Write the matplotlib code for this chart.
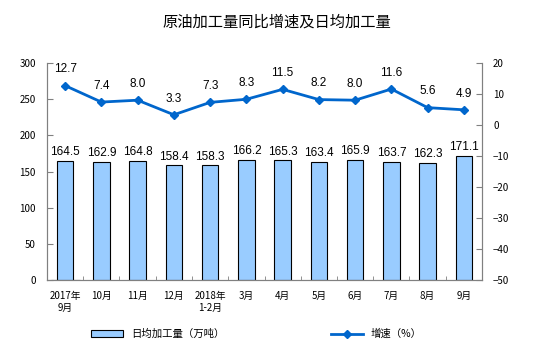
import numpy as np
import matplotlib.pyplot as plt

plt.rcParams['font.family'] = ['Noto Sans CJK SC', 'DejaVu Sans']

# data
categories = ["2017年\n9月", "10月", "11月", "12月", "2018年\n1-2月", "3月",
              "4月", "5月", "6月", "7月", "8月", "9月"]
daily_output = [164.5, 162.9, 164.8, 158.4, 158.3, 166.2,
                165.3, 163.4, 165.9, 163.7, 162.3, 171.1]
growth = [12.7, 7.4, 8.0, 3.3, 7.3, 8.3, 11.5, 8.2, 8.0, 11.6, 5.6, 4.9]

bar_color = "#99CCFF"
line_color = "#0066CC"

fig = plt.figure(figsize=(5.54, 3.53), dpi=100)
ax = fig.add_axes([47 / 554, 1 - 280 / 353, (482 - 47) / 554, (280 - 63) / 353])
ax2 = ax.twinx()

x = np.arange(len(categories))
ax.bar(x, daily_output, width=0.45, color=bar_color, edgecolor="black", linewidth=0.8, zorder=2)
for xi, v in zip(x, daily_output):
    ax.text(xi, v + 4, f"{v:.1f}", ha="center", va="bottom", fontsize=8.5, family="Liberation Sans")

ax2.plot(x, growth, color=line_color, marker="D", markersize=4, linewidth=2, zorder=3)
for xi, v in zip(x, growth):
    ax2.text(xi, v + 3.3, f"{v:.1f}", ha="center", va="bottom", fontsize=8.5, family="Liberation Sans")

ax.set_xlim(-0.5, len(categories) - 0.5)
ax.set_ylim(0, 300)
ax.set_yticks(range(0, 301, 50))
ax2.set_ylim(-50, 20)
ax2.set_yticks(range(-50, 21, 10))

ax.set_xticks(x)
ax.set_xticklabels(categories, fontsize=7)
ax.set_xticks(np.arange(-0.5, len(categories), 1), minor=True)
ax.tick_params(axis="x", which="major", length=0, pad=8)
ax.tick_params(axis="x", which="minor", direction="in", length=3, color="#808080")
ax.tick_params(axis="y", direction="in", length=4, labelsize=7, color="#808080", pad=8)
ax2.tick_params(axis="y", direction="in", length=4, labelsize=7, color="#808080", pad=8)

for a in (ax, ax2):
    for s in a.spines.values():
        s.set_color("#808080")
    a.spines["top"].set_visible(False)

fig.text(0.5, 1 - 22 / 353, "原油加工量同比增速及日均加工量", ha="center", va="center", fontsize=11)

h1 = ax.bar([0], [0], color=bar_color, edgecolor="black", linewidth=0.8)
fig.legend([h1], ["日均加工量（万吨）"], loc="center", bbox_to_anchor=(0.285, 1 - 334 / 353),
           frameon=False, fontsize=7.5, handlelength=3, handleheight=0.8)
h2, = ax2.plot([], [], color=line_color, marker="D", markersize=4, linewidth=2)
fig.legend([h2], ["增速（%）"], loc="center", bbox_to_anchor=(0.68, 1 - 334 / 353),
           frameon=False, fontsize=7.5, handlelength=3)

plt.savefig("out.png")
